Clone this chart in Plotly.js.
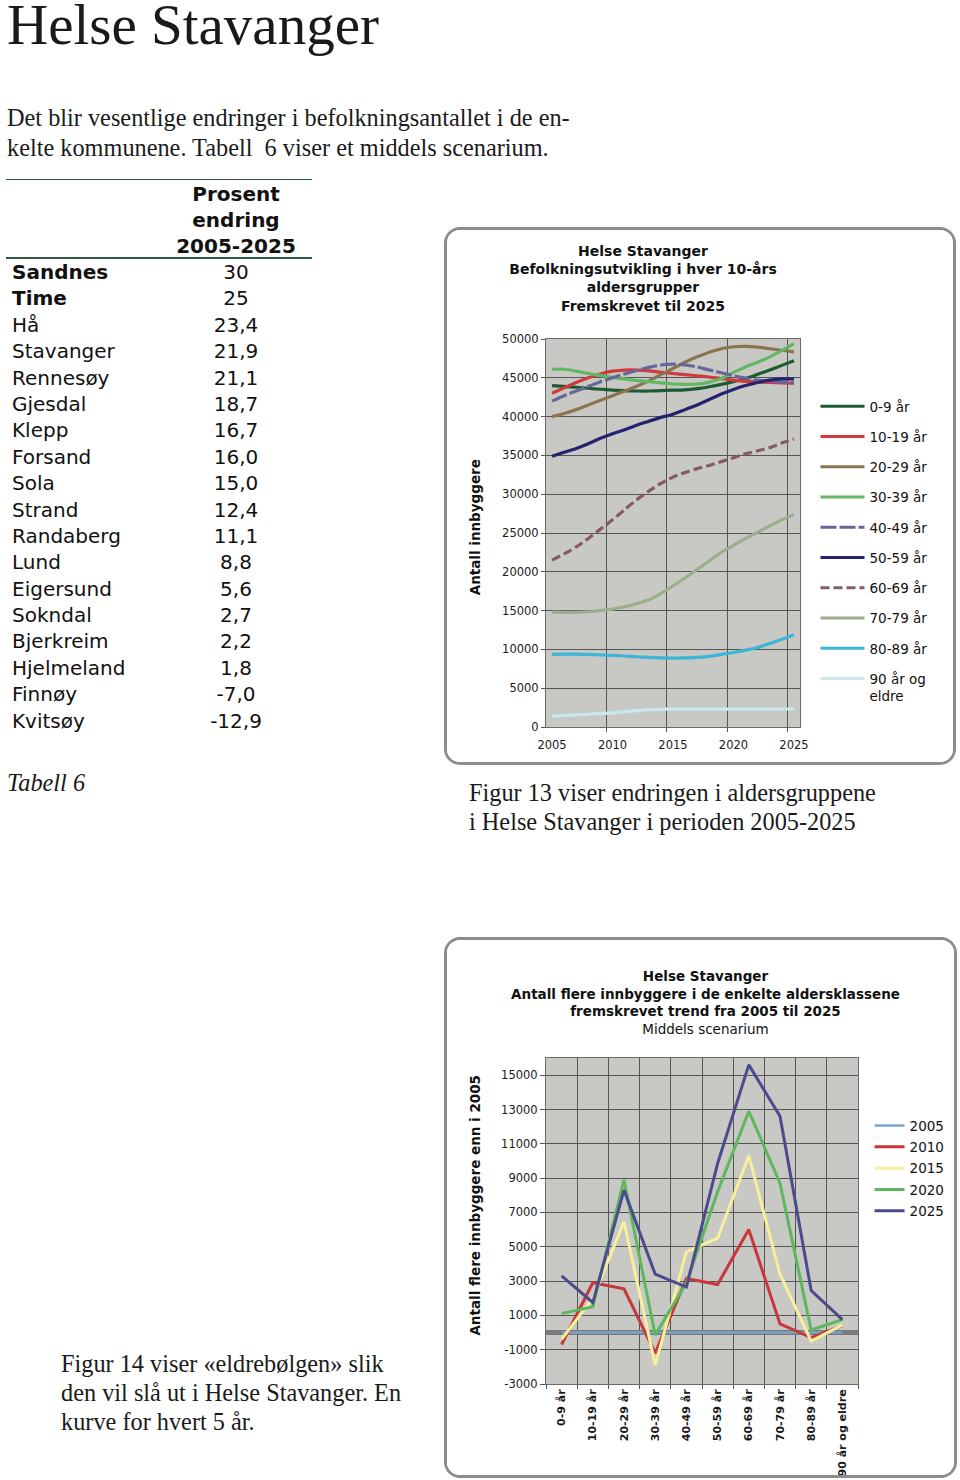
<!DOCTYPE html>
<html lang="no">
<head>
<meta charset="utf-8">
<title>Helse Stavanger</title>
<script src="https://cdn.plot.ly/plotly-3.0.1.min.js"></script>
<style>
    html, body { margin: 0; padding: 0; background: #fff; }
    body {
        position: relative; width: 960px; height: 1480px; overflow: hidden;
        font-family: "Liberation Serif", "Times New Roman", serif; color: #1a1a1a;
    }
    .txt { position: absolute; white-space: pre; }
    #heading { left: 7px; top: 1px; font-size: 57px; line-height: 48px; }
    .brod { font-size: 24.3px; line-height: 29.5px; }
    #tabell {
        position: absolute; left: 6px; top: 179px; width: 306px;
        font-family: "DejaVu Sans", Verdana, sans-serif; font-size: 20px; color: #111;
    }
    #tabell .hode {
        border-top: 1.5px solid #2f5c3f; border-bottom: 2px solid #2f5c3f;
        height: 77px; position: relative;
    }
    #tabell .hode div {
        position: absolute; left: 154px; width: 152px; top: 1px;
        text-align: center; font-weight: bold; line-height: 26px;
    }
    #tabell .rad { position: relative; height: 26.4px; line-height: 26.4px; }
    #tabell .navn { position: absolute; left: 6px; }
    #tabell .verdi { position: absolute; left: 154px; width: 152px; text-align: center; }
    .boks {
        position: absolute; box-sizing: border-box; border: 3px solid #8c8c8c;
        border-radius: 16px; background: #fff; overflow: hidden;
    }
    #fig13 { left: 444px; top: 227px; width: 512px; height: 538px; }
    #fig14 { left: 444px; top: 937px; width: 513px; height: 541px; }
</style>
</head>
<body>

<div id="heading" class="txt">Helse Stavanger</div>
<div class="txt brod" style="left:7px; top:103px;">Det blir vesentlige endringer i befolkningsantallet i de en-
kelte kommunene. Tabell  6 viser et middels scenarium.</div>

<div id="tabell"></div>
<div class="txt brod" style="left:7px; top:768px; font-style:italic;">Tabell 6</div>

<div id="fig13" class="boks"><div id="chart13"></div></div>
<div class="txt brod" style="left:469px; top:778px; line-height:29px;">Figur 13 viser endringen i aldersgruppene
i Helse Stavanger i perioden 2005-2025</div>

<div id="fig14" class="boks"><div id="chart14"></div></div>
<div class="txt brod" style="left:61px; top:1349px; line-height:29px;">Figur 14 viser «eldrebølgen» slik
den vil slå ut i Helse Stavanger. En
kurve for hvert 5 år.</div>

<script>
// Tabell 6: prosent endring 2005-2025
const kommuner = ['Sandnes', 'Time', 'Hå', 'Stavanger', 'Rennesøy', 'Gjesdal', 'Klepp', 'Forsand', 'Sola',
    'Strand', 'Randaberg', 'Lund', 'Eigersund', 'Sokndal', 'Bjerkreim', 'Hjelmeland', 'Finnøy', 'Kvitsøy'];
const endring = ['30', '25', '23,4', '21,9', '21,1', '18,7', '16,7', '16,0', '15,0',
    '12,4', '11,1', '8,8', '5,6', '2,7', '2,2', '1,8', '-7,0', '-12,9'];
const uthevet = ['Sandnes', 'Time'];

// Figur 13: befolkning per 10-års aldersgruppe
const aar = [2005, 2006, 2007, 2008, 2009, 2010, 2011, 2012, 2013, 2014, 2015,
    2016, 2017, 2018, 2019, 2020, 2021, 2022, 2023, 2024, 2025];
const alder0_9 = [44000, 43900, 43780, 43650, 43520, 43420, 43350, 43300, 43300, 43350, 43400,
    43450, 43600, 43850, 44150, 44500, 44900, 45450, 46000, 46600, 47200];
const alder10_19 = [43000, 43700, 44400, 45000, 45500, 45850, 46000, 46000, 45900, 45700, 45550,
    45400, 45250, 45100, 44900, 44700, 44550, 44450, 44400, 44350, 44300];
const alder20_29 = [40000, 40400, 40900, 41500, 42100, 42700, 43300, 43900, 44600, 45400, 46200,
    47000, 47700, 48300, 48750, 49000, 49050, 48950, 48750, 48550, 48350];
const alder30_39 = [46100, 46100, 45850, 45550, 45300, 45050, 44850, 44650, 44500, 44350, 44200,
    44150, 44200, 44450, 44900, 45700, 46400, 47000, 47700, 48500, 49400];
const alder40_49 = [42000, 42700, 43300, 43900, 44500, 45000, 45500, 45950, 46350, 46650, 46750,
    46650, 46400, 46000, 45650, 45250, 44950, 44700, 44550, 44450, 44350];
const alder50_59 = [34900, 35400, 35900, 36500, 37200, 37800, 38300, 38900, 39400, 39900, 40300,
    40900, 41500, 42200, 42900, 43500, 44000, 44400, 44700, 44850, 44850];
const alder60_69 = [21500, 22300, 23200, 24300, 25500, 26700, 28000, 29300, 30400, 31400, 32200,
    32800, 33300, 33700, 34200, 34700, 35200, 35600, 36000, 36600, 37100];
const alder70_79 = [14800, 14780, 14780, 14850, 15000, 15200, 15500, 15900, 16400, 17200, 18200,
    19200, 20300, 21400, 22500, 23400, 24300, 25100, 25900, 26700, 27400];
const alder80_89 = [9350, 9380, 9400, 9350, 9280, 9220, 9150, 9050, 8980, 8920, 8880,
    8900, 8980, 9100, 9350, 9600, 9900, 10250, 10750, 11300, 11900];
const alder90 = [1400, 1480, 1560, 1640, 1720, 1820, 1980, 2120, 2220, 2280, 2300,
    2300, 2300, 2300, 2300, 2300, 2310, 2310, 2320, 2320, 2320];

// Figur 14: antall flere innbyggere enn i 2005
const klasser = ['0-9 år', '10-19 år', '20-29 år', '30-39 år', '40-49 år', '50-59 år',
    '60-69 år', '70-79 år', '80-89 år', '90 år og eldre'];
const flere2005 = [0, 0, 0, 0, 0, 0, 0, 0, 0, 0];
const flere2010 = [-700, 2900, 2550, -1200, 3150, 2800, 6000, 500, -300, 400];
const flere2015 = [-400, 2000, 6450, -1900, 4700, 5500, 10300, 3400, -500, 450];
const flere2020 = [1100, 1500, 8900, -150, 2900, 8200, 12900, 8700, 150, 750];
const flere2025 = [3300, 1750, 8300, 3400, 2650, 9850, 15600, 12600, 2450, 750];
const yTicks14 = [-3000, -1000, 1000, 3000, 5000, 7000, 9000, 11000, 13000, 15000];

const sans = '"DejaVu Sans", Verdana, sans-serif';
const gridFarge = '#555555';
const plotBg = '#c8c8c4';

// Build table
function byggTabell() {
    let html = '<div class="hode"><div>Prosent<br>endring<br>2005-2025</div></div>';
    kommuner.forEach((k, i) => {
        const fet = uthevet.includes(k) ? ' style="font-weight:bold"' : '';
        html += `<div class="rad"><span class="navn"${fet}>${k}</span><span class="verdi">${endring[i]}</span></div>`;
    });
    document.getElementById('tabell').innerHTML = html;
}

// Figur 13
function tegnFig13() {
    const serier = [
        {navn: '0-9 år', y: alder0_9, farge: '#1d5c33', strek: 'solid'},
        {navn: '10-19 år', y: alder10_19, farge: '#cf3a3c', strek: 'solid'},
        {navn: '20-29 år', y: alder20_29, farge: '#8b7550', strek: 'solid'},
        {navn: '30-39 år', y: alder30_39, farge: '#62b862', strek: 'solid'},
        {navn: '40-49 år', y: alder40_49, farge: '#66669c', strek: '16px,3px'},
        {navn: '50-59 år', y: alder50_59, farge: '#232370', strek: 'solid'},
        {navn: '60-69 år', y: alder60_69, farge: '#855b67', strek: '9px,4px'},
        {navn: '70-79 år', y: alder70_79, farge: '#9cae8c', strek: 'solid'},
        {navn: '80-89 år', y: alder80_89, farge: '#3db5d8', strek: 'solid'},
        {navn: '90 år og<br>eldre', y: alder90, farge: '#c8eaee', strek: 'solid'}
    ];
    const traces = serier.map(s => ({
        x: aar, y: s.y, name: s.navn, legendgroup: s.navn,
        type: 'scatter', mode: 'lines',
        line: {color: s.farge, width: 3.2, dash: s.strek, shape: 'spline', smoothing: 0.6}
    }));

    const layout = {
        width: 506, height: 532,
        margin: {l: 99, r: 152.5, t: 109, b: 35, autoexpand: false},
        paper_bgcolor: '#fff', plot_bgcolor: plotBg,
        font: {family: sans, size: 11.5, color: '#1a1a1a'},
        title: {
            text: '<b>Helse Stavanger<br>Befolkningsutvikling i hver 10-års<br>aldersgrupper<br>Fremskrevet til 2025</b>',
            xref: 'container', x: 196 / 506, xanchor: 'center',
            yref: 'container', y: 1 - 26 / 532, yanchor: 'top',
            font: {size: 14, color: '#111'}
        },
        xaxis: {
            range: [2004.5, 2025.5], tickvals: [2005, 2010, 2015, 2020, 2025],
            ticks: 'outside', ticklen: 7, tickcolor: 'rgba(0,0,0,0)',
            showgrid: false, zeroline: false,
            showline: true, mirror: true, linecolor: '#6a6a6a', linewidth: 1,
            minor: {
                tickvals: [2009.5, 2014.5, 2019.5, 2024.5],
                showgrid: true, gridcolor: gridFarge, gridwidth: 1,
                ticks: 'outside', ticklen: 4, tickcolor: '#555'
            }
        },
        yaxis: {
            range: [0, 50000], dtick: 5000, tickformat: 'd',
            ticks: 'outside', ticklen: 4, tickcolor: '#555',
            showgrid: true, gridcolor: gridFarge, gridwidth: 1, zeroline: false,
            showline: true, mirror: true, linecolor: '#6a6a6a', linewidth: 1
        },
        legend: {
            x: 1.061, xanchor: 'left', y: 0.866, yanchor: 'top',
            font: {size: 13.5, color: '#111'}, tracegroupgap: 9.7, valign: 'top',
            bgcolor: 'rgba(0,0,0,0)', itemwidth: 44
        },
        annotations: [{
            text: '<b>Antall innbyggere</b>', textangle: -90,
            xref: 'paper', yref: 'paper', x: -0.279, y: 0.515,
            xanchor: 'center', yanchor: 'middle', showarrow: false,
            font: {size: 13.5, color: '#111'}
        }]
    };

    Plotly.newPlot('chart13', traces, layout, {displayModeBar: false, staticPlot: true});
}

// Figur 14
function tegnFig14() {
    const serier = [
        {navn: '2005', y: flere2005, farge: '#7ba4c8', bredde: 2.5},
        {navn: '2010', y: flere2010, farge: '#c8373b', bredde: 3},
        {navn: '2015', y: flere2015, farge: '#f6ef9c', bredde: 3},
        {navn: '2020', y: flere2020, farge: '#5db75d', bredde: 3},
        {navn: '2025', y: flere2025, farge: '#4b4b8e', bredde: 3}
    ];
    const traces = serier.map(s => ({
        x: klasser, y: s.y, name: s.navn, legendgroup: s.navn,
        type: 'scatter', mode: 'lines',
        line: {color: s.farge, width: s.bredde}
    }));

    const layout = {
        width: 507, height: 535,
        margin: {l: 99, r: 95.5, t: 118, b: 91, autoexpand: false},
        paper_bgcolor: '#fff', plot_bgcolor: plotBg,
        font: {family: sans, size: 11.5, color: '#1a1a1a'},
        title: {
            text: '<b>Helse Stavanger<br>Antall flere innbyggere i de enkelte aldersklassene<br>fremskrevet trend fra 2005 til 2025</b><br>Middels scenarium',
            xref: 'container', x: 258.5 / 507, xanchor: 'center',
            yref: 'container', y: 1 - 41 / 535, yanchor: 'top',
            font: {size: 13.5, color: '#111'}
        },
        xaxis: {
            type: 'category', range: [-0.5, klasser.length - 0.5], tickson: 'boundaries',
            ticks: 'outside', ticklen: 4, tickcolor: '#555', tickangle: -90,
            tickfont: {size: 11, weight: 'bold'},
            showgrid: true, gridcolor: gridFarge, gridwidth: 1,
            showline: true, mirror: true, linecolor: '#6a6a6a', linewidth: 1
        },
        yaxis: {
            range: [-3000, 16000], tickvals: yTicks14, ticktext: yTicks14.map(String),
            ticks: 'outside', ticklen: 5, tickcolor: '#555',
            showgrid: true, gridcolor: gridFarge, gridwidth: 1,
            zeroline: true, zerolinecolor: '#7a7a7a', zerolinewidth: 5,
            showline: true, mirror: true, linecolor: '#6a6a6a', linewidth: 1
        },
        legend: {
            x: 1.037, xanchor: 'left', y: 0.840, yanchor: 'top',
            font: {size: 13.5, color: '#111'}, tracegroupgap: 0.8,
            bgcolor: 'rgba(0,0,0,0)'
        },
        annotations: [{
            text: '<b>Antall flere innbyggere enn i 2005</b>', textangle: -90,
            xref: 'paper', yref: 'paper', x: -0.229, y: 0.549,
            xanchor: 'center', yanchor: 'middle', showarrow: false,
            font: {size: 13.5, color: '#111'}
        }]
    };

    Plotly.newPlot('chart14', traces, layout, {displayModeBar: false, staticPlot: true});
}

byggTabell();
tegnFig13();
tegnFig14();
</script>
</body>
</html>
